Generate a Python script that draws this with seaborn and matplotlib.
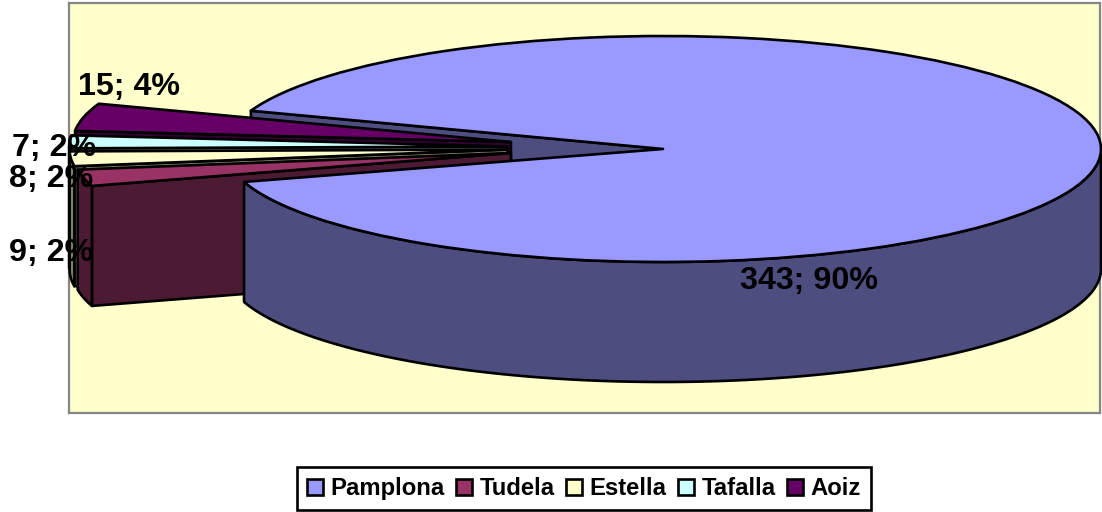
import numpy as np
import seaborn as sns
import matplotlib
matplotlib.use('Agg')
import matplotlib.pyplot as plt

# data
towns = ['Pamplona', 'Tudela', 'Estella', 'Tafalla', 'Aoiz']
counts = [343, 9, 8, 7, 15]
top_colors = ['#9999FF', '#993366', '#FFFFCC', '#CCFFFF', '#660066']

# layout, in pixels of the 1102x512 picture
W, H = 1102, 512
BOX = (69, 3, 1100, 413)      # left, top, right, bottom of the plot area
CX, CY = 663, 149             # centre of the big slice
RX, RY = 438, 113             # ellipse radii
DEPTH = 120 / RY              # height of the pie in data units
EXPLODE = 0.356
EXPLODE_Y = 0.62              # slices move less in y than the ellipse suggests
LIFT = 1.5 / RY
START = 160.2
LW = 1.9
label_px = [(740, 281), (9, 253), (9, 179), (12, 148), (78, 87)]
zorders = [10, 8, 6, 4, 2]

sns.set_theme(style='white')
plt.rcParams['font.family'] = ['Liberation Sans', 'DejaVu Sans']
plt.rcParams['font.weight'] = 'bold'
plt.rcParams['text.color'] = 'black'

palette = sns.color_palette(top_colors)
side_colors = [tuple(c * 0.5 for c in col) for col in palette]

fig = plt.figure(figsize=(W / 100, H / 100), dpi=100, facecolor='white')
ax = fig.add_axes([BOX[0] / W, 1 - BOX[3] / H, (BOX[2] - BOX[0]) / W, (BOX[3] - BOX[1]) / H])

explode = [0 if i == 0 else EXPLODE for i in range(len(counts))]
wedges, _ = ax.pie(counts, colors=palette, explode=explode, startangle=START,
                   counterclock=False, radius=1,
                   wedgeprops=dict(edgecolor='black', linewidth=LW, clip_on=False, joinstyle='round'))

line = dict(edgecolor='black', linewidth=LW, joinstyle='round', clip_on=False)
for i, (w, side, z) in enumerate(zip(wedges, side_colors, zorders)):
    x0, y0 = w.center
    if i > 0:
        y0 = y0 * EXPLODE_Y + LIFT
        w.set_center((x0, y0))
    w.set_zorder(z + 0.5)
    # cut face under the lower straight edge of the slice
    a = np.deg2rad(w.theta2)
    px, py = x0 + np.cos(a), y0 + np.sin(a)
    # the big slice's face stays behind the small ones
    ax.fill([x0, px, px, x0], [y0, py, py - DEPTH, y0 - DEPTH], facecolor=side,
            zorder=1 if z == 10 else z, **line)
    # outer wall, only the part that faces the viewer
    th = np.deg2rad(np.linspace(w.theta1, w.theta2, 720))
    th = th[np.sin(th) <= 0]
    if len(th) > 1:
        xs, ys = x0 + np.cos(th), y0 + np.sin(th)
        ax.fill(np.r_[xs, xs[::-1]], np.r_[ys, ys[::-1] - DEPTH], facecolor=side, zorder=z, **line)

ax.set_aspect('auto')
ax.set_xlim((BOX[0] - CX) / RX, (BOX[2] - CX) / RX)
ax.set_ylim((CY - BOX[3]) / RY, (CY - BOX[1]) / RY)
ax.set_frame_on(True)
ax.set_facecolor('#FFFFCC')
for s in ax.spines.values():
    s.set_visible(True)
    s.set_color('#868686')
    s.set_linewidth(1.6)

total = sum(counts)
for n, (lx, ly) in zip(counts, label_px):
    fig.text(lx / W, 1 - ly / H, f'{n}; {round(100 * n / total)}%', fontsize=23.2,
             fontweight='bold', ha='left', va='center', color='black')

leg = ax.legend(wedges, towns, loc='center', ncol=5, bbox_to_anchor=(584 / W, 1 - 488.5 / H),
                bbox_transform=fig.transFigure, fontsize=17.2, frameon=True, fancybox=False,
                framealpha=1, edgecolor='black', labelcolor='black', handlelength=0.66, handleheight=0.66,
                handletextpad=0.3, columnspacing=0.5, borderpad=0.42, borderaxespad=0)
leg.get_frame().set_linewidth(LW)

fig.savefig('out.png', dpi=100)
